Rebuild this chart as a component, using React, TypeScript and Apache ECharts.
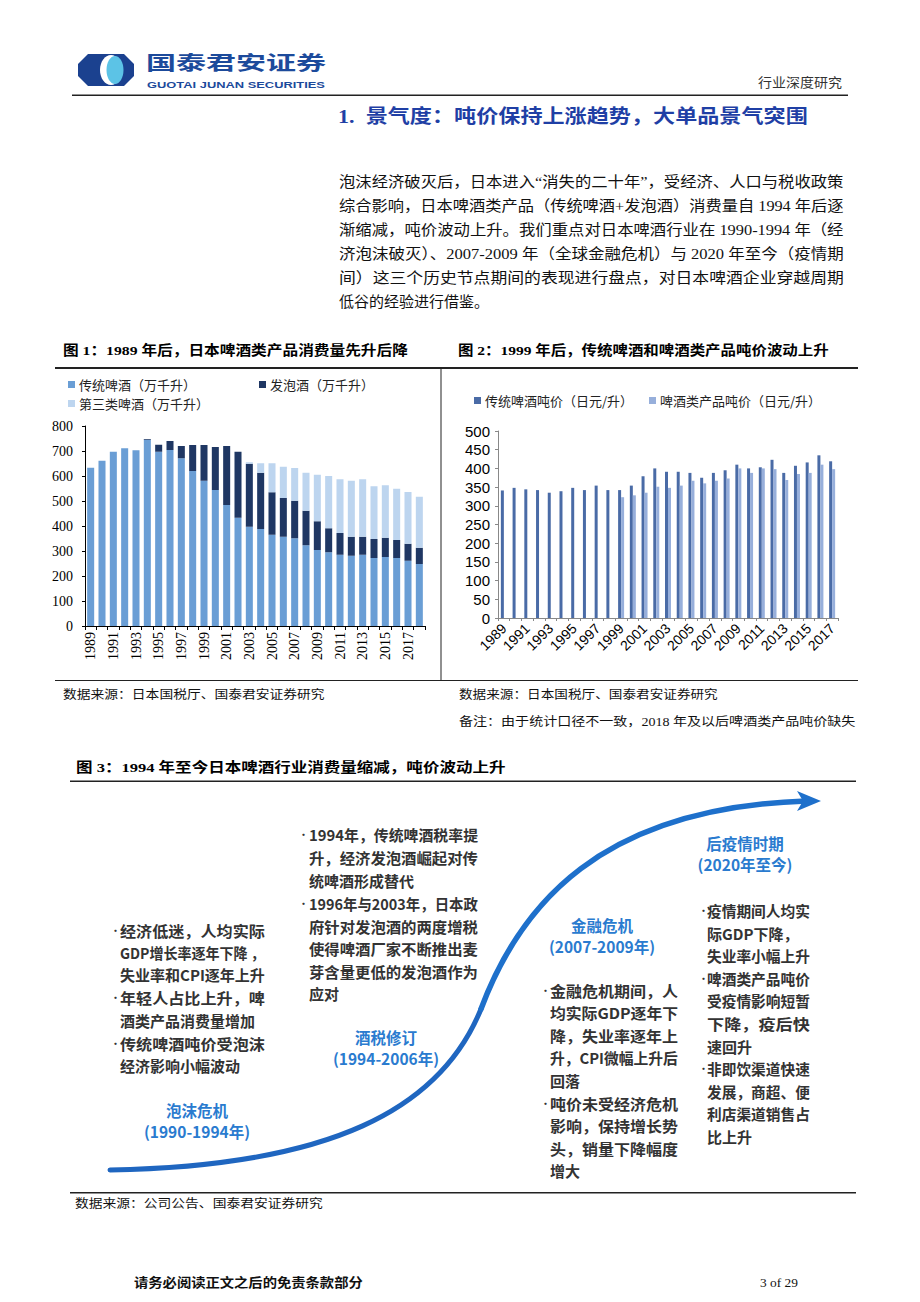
import React, { useEffect, useRef } from "react";
import * as echarts from "echarts";

// ---------------- DATA ----------------
const consumptionYears = ["1989","1990","1991","1992","1993","1994","1995","1996","1997","1998","1999","2000","2001","2002","2003","2004","2005","2006","2007","2008","2009","2010","2011","2012","2013","2014","2015","2016","2017","2018"];
const traditionalBeer = [633,661,697,711,703,745,697,704,671,620,581,544,484,433,397,388,365,357,351,323,304,295,285,281,285,272,276,272,261,248];
const happoshu = [0,0,0,0,0,3,28,36,49,104,143,172,236,264,252,225,170,155,150,138,115,96,87,76,72,76,77,72,68,65];
const thirdBeer = [null,null,null,null,null,null,null,null,null,null,null,null,null,null,6,38,116,125,131,152,186,209,215,224,230,211,210,205,207,204];

const priceYears = ["1989","1990","1991","1992","1993","1994","1995","1996","1997","1998","1999","2000","2001","2002","2003","2004","2005","2006","2007","2008","2009","2010","2011","2012","2013","2014","2015","2016","2017"];
const traditionalPrice = [341,348,344,342,335,339,348,342,354,342,342,354,379,400,391,391,388,375,388,395,410,400,403,423,388,407,416,435,419];
const beerProductPrice = [null,null,null,null,null,null,null,null,null,null,323,328,335,351,348,354,367,360,367,373,400,388,400,398,369,385,388,410,398];

const consumptionAxis = { min: 0, max: 800, interval: 100 };
const priceAxis = { min: 0, max: 500, interval: 50 };

const seriesNames = ["传统啤酒（万千升）", "发泡酒（万千升）", "第三类啤酒（万千升）"];
const priceNames = ["传统啤酒吨价（日元/升）", "啤酒类产品吨价（日元/升）"];

const paragraph = [
  "泡沫经济破灭后，日本进入“消失的二十年”，受经济、人口与税收政策",
  "综合影响，日本啤酒类产品（传统啤酒+发泡酒）消费量自 1994 年后逐",
  "渐缩减，吨价波动上升。我们重点对日本啤酒行业在 1990-1994 年（经",
  "济泡沫破灭）、2007-2009 年（全球金融危机）与 2020 年至今（疫情期",
  "间）这三个历史节点期间的表现进行盘点，对日本啤酒企业穿越周期",
  "低谷的经验进行借鉴。",
];

// [text, bullet, justify]
const block1: [string, boolean, boolean][] = [
  ["经济低迷，人均实际", true, true],
  ["GDP增长率逐年下降 ，", false, true],
  ["失业率和CPI逐年上升", false, true],
  ["年轻人占比上升，啤", true, true],
  ["酒类产品消费量增加", false, false],
  ["传统啤酒吨价受泡沫", true, true],
  ["经济影响小幅波动", false, false],
];
const block2: [string, boolean, boolean][] = [
  ["1994年，传统啤酒税率提", true, true],
  ["升，经济发泡酒崛起对传", false, true],
  ["统啤酒形成替代", false, false],
  ["1996年与2003年，日本政", true, true],
  ["府针对发泡酒的两度增税", false, true],
  ["使得啤酒厂家不断推出麦", false, true],
  ["芽含量更低的发泡酒作为", false, true],
  ["应对", false, false],
];
const block3: [string, boolean, boolean][] = [
  ["金融危机期间，人", true, true],
  ["均实际GDP逐年下", false, true],
  ["降，失业率逐年上", false, true],
  ["升，CPI微幅上升后", false, true],
  ["回落", false, false],
  ["吨价未受经济危机", true, true],
  ["影响，保持增长势", false, true],
  ["头，销量下降幅度", false, true],
  ["增大", false, false],
];
const block4: [string, boolean, boolean][] = [
  ["疫情期间人均实", true, true],
  ["际GDP下降，", false, false],
  ["失业率小幅上升", false, true],
  ["啤酒类产品吨价", true, true],
  ["受疫情影响短暂", false, true],
  ["下降，疫后快", false, true],
  ["速回升", false, false],
  ["非即饮渠道快速", true, true],
  ["发展，商超、便", false, true],
  ["利店渠道销售占", false, true],
  ["比上升", false, false],
];

const phases: [string, string][] = [
  ["泡沫危机", "(1990-1994年)"],
  ["酒税修订", "(1994-2006年)"],
  ["金融危机", "(2007-2009年)"],
  ["后疫情时期", "(2020年至今)"],
];

// ---------------- HELPERS ----------------
const SERIF = '"Liberation Serif", "Noto Sans CJK SC", serif';
const CJK = '"Noto Sans CJK SC", sans-serif';
const SANS = '"Liberation Sans", Arial, sans-serif';

let measureCtx: CanvasRenderingContext2D | null = null;
function measure(text: string, size: number, family: string, weight: string) {
  if (!measureCtx) measureCtx = document.createElement("canvas").getContext("2d");
  if (!measureCtx) return 0;
  measureCtx.font = `${weight} ${size}px ${family}`;
  return measureCtx.measureText(text).width;
}

type TOpt = { size: number; family?: string; weight?: string; color?: string; align?: string; width?: number; maxScale?: number };
function txt(text: string, x: number, y: number, o: TOpt) {
  const family = o.family || SERIF;
  const weight = o.weight || "normal";
  let scaleX = 1;
  if (o.width) {
    const w = measure(text, o.size, family, weight);
    if (w > 0) {
      scaleX = o.width / w;
      const mx = o.maxScale || 1.6;
      if (scaleX > mx) scaleX = mx;
    }
  }
  return {
    type: "text",
    x,
    y,
    scaleX,
    silent: true,
    style: {
      text,
      fill: o.color || "#000",
      fontSize: o.size,
      fontFamily: family,
      fontWeight: weight,
      align: o.align || "left",
      textAlign: o.align || "left",
      verticalAlign: "middle",
      textVerticalAlign: "middle",
    },
  };
}
function rect(x: number, y: number, w: number, h: number, fill: string) {
  return { type: "rect", silent: true, shape: { x, y, width: w, height: h }, style: { fill } };
}

function blockEls(lines: [string, boolean, boolean][], bx: number, tx: number, right: number, ys: number[]) {
  const els: any[] = [];
  lines.forEach(([t, bullet, just], i) => {
    if (bullet) els.push(txt("•", bx, ys[i], { size: 11, family: CJK, color: "#333" }));
    const w = right - tx;
    const natural = measure(t, 15, CJK, "bold");
    let opts: TOpt = { size: 15, family: CJK, weight: "bold", color: "#333" };
    if (just && natural > 0 && w / natural > 0.85 && w / natural < 1.25) opts.width = w;
    els.push(txt(t, tx, ys[i], opts));
  });
  return els;
}

function buildOption() {
  const g: any[] = [];
  // header logo
  g.push({ type: "polygon", silent: true, shape: { points: [[88, 54], [124, 54], [134, 64], [134, 76], [124, 86], [88, 86], [78, 76], [78, 64]] }, style: { fill: "#1b418f" } });
  g.push({ type: "ellipse", silent: true, shape: { cx: 111, cy: 70, rx: 11, ry: 15 }, style: { fill: "#ffffff" } });
  g.push({ type: "ellipse", silent: true, shape: { cx: 115, cy: 70, rx: 8.5, ry: 14 }, style: { fill: "#5cc3e6" } });
  g.push(txt("国泰君安证券", 146, 62, { size: 19, family: CJK, weight: "bold", color: "#1c4a9b", width: 180 }));
  g.push(txt("GUOTAI JUNAN SECURITIES", 147, 85, { size: 9, family: SANS, weight: "bold", color: "#1c4a9b", width: 178 }));
  g.push(txt("行业深度研究", 758, 83, { size: 13, family: SERIF, color: "#333", width: 84 }));
  g.push(rect(72, 94.5, 776, 1.6, "#222"));

  // section title
  g.push(txt("1.  景气度：吨价保持上涨趋势，大单品景气突围", 338, 117, { size: 19, family: SERIF, weight: "bold", color: "#1f3fa5", width: 470 }));

  // paragraph
  const py = [182, 206, 230, 254, 278, 302];
  paragraph.forEach((line, i) => {
    const o: TOpt = { size: 15, family: SERIF, color: "#111" };
    if (i < paragraph.length - 1) o.width = 505;
    g.push(txt(line, 339, py[i], o));
  });

  // figure captions
  g.push(txt("图 1：1989 年后，日本啤酒类产品消费量先升后降", 63, 350, { size: 13.5, family: SERIF, weight: "bold", width: 345 }));
  g.push(txt("图 2：1999 年后，传统啤酒和啤酒类产品吨价波动上升", 458, 350, { size: 13.5, family: SERIF, weight: "bold", width: 371 }));
  g.push(rect(55, 367, 803, 2, "#222"));
  g.push(rect(440.5, 368, 1, 312, "#222"));
  g.push(rect(55, 680, 803, 1, "#222"));
  g.push(txt("数据来源：日本国税厅、国泰君安证券研究", 63, 695, { size: 12, family: SERIF, color: "#111", width: 262 }));
  g.push(txt("数据来源：日本国税厅、国泰君安证券研究", 459, 695, { size: 12, family: SERIF, color: "#111", width: 259 }));
  g.push(txt("备注：由于统计口径不一致，2018 年及以后啤酒类产品吨价缺失", 459, 722, { size: 12, family: SERIF, color: "#111", width: 397 }));

  // figure 3
  g.push(txt("图 3：1994 年至今日本啤酒行业消费量缩减，吨价波动上升", 76, 768, { size: 13.5, family: SERIF, weight: "bold", width: 430 }));
  g.push(rect(70, 780.5, 786, 1.6, "#222"));
  g.push(rect(70, 1192, 786, 1.6, "#222"));
  g.push(txt("数据来源：公司公告、国泰君安证券研究", 75, 1204, { size: 12, family: SERIF, color: "#111", width: 248 }));

  // S curve
  g.push({ type: "bezierCurve", silent: true, shape: { x1: 110, y1: 1170, cpx1: 330, cpy1: 1166, cpx2: 440, cpy2: 1110, x2: 481, y2: 1009 }, style: { stroke: "#1f66c0", lineWidth: 5, fill: null, lineCap: "round" } });
  g.push({ type: "bezierCurve", silent: true, shape: { x1: 481, y1: 1009, cpx1: 520, cpy1: 905, cpx2: 600, cpy2: 808, x2: 806, y2: 801 }, style: { stroke: "#1e70cb", lineWidth: 5.5, fill: null, lineCap: "round" } });
  g.push({ type: "polygon", silent: true, shape: { points: [[821, 801], [797, 791], [803, 801], [797, 811]] }, style: { fill: "#1e70cb" } });

  // phase labels
  const phasePos = [[197, 1110, 1131], [386, 1037, 1058], [602, 925, 946], [745, 843, 864]];
  phases.forEach(([a, b], i) => {
    const [cx, y1, y2] = phasePos[i];
    g.push(txt(a, cx, y1, { size: 15.5, family: CJK, weight: "bold", color: "#2a7bcf", align: "center" }));
    g.push(txt(b, cx, y2, { size: 15.5, family: CJK, weight: "bold", color: "#2a7bcf", align: "center" }));
  });

  g.push(...blockEls(block1, 110, 120, 265, [930, 952, 975, 997, 1020, 1043, 1065]));
  g.push(...blockEls(block2, 298, 309, 478, [834, 857, 880, 903, 926, 948, 971, 993]));
  g.push(...blockEls(block3, 540, 550, 678, [990, 1012, 1035, 1057, 1080, 1103, 1125, 1148, 1170]));
  g.push(...blockEls(block4, 698, 707, 810, [910, 933, 955, 978, 1000, 1023, 1046, 1068, 1091, 1113, 1136]));

  // footer
  g.push(txt("请务必阅读正文之后的免责条款部分", 134, 1283, { size: 13, family: SERIF, weight: "bold", color: "#111", width: 229 }));
  g.push(txt("3 of 29", 760, 1283, { size: 13, family: SERIF, color: "#111", width: 38 }));

  const legendBase = {
    icon: "rect",
    itemWidth: 7,
    itemHeight: 7,
    itemGap: 0,
    padding: 0,
    selectedMode: false,
    textStyle: { fontSize: 13, fontFamily: CJK, color: "#222", padding: [0, 0, 0, -1] },
  };

  return {
    animation: false,
    backgroundColor: "#ffffff",
    textStyle: { fontFamily: SERIF },
    legend: [
      { ...legendBase, data: [seriesNames[0]], left: 68, top: 378 },
      { ...legendBase, data: [seriesNames[1]], left: 259, top: 378 },
      { ...legendBase, data: [seriesNames[2]], left: 68, top: 397 },
      { ...legendBase, data: [priceNames[0]], left: 474, top: 394 },
      { ...legendBase, data: [priceNames[1]], left: 649, top: 394 },
    ],
    grid: [
      { left: 85, top: 426, width: 340, height: 200 },
      { left: 498, top: 431, width: 340, height: 187 },
    ],
    xAxis: [
      {
        type: "category", gridIndex: 0, data: consumptionYears,
        axisLine: { lineStyle: { color: "#000", width: 1 } },
        axisTick: { show: true, interval: 0, length: 4, lineStyle: { color: "#000" } },
        axisLabel: { interval: 1, rotate: 90, fontSize: 14, fontFamily: '"Liberation Serif", serif', color: "#000", margin: 6 },
      },
      {
        type: "category", gridIndex: 1, data: priceYears,
        axisLine: { lineStyle: { color: "#888", width: 1 } },
        axisTick: { show: true, interval: 0, length: 3, lineStyle: { color: "#888" } },
        axisLabel: { interval: 1, rotate: 45, fontSize: 14, fontFamily: SANS, color: "#000", margin: 8 },
      },
    ],
    yAxis: [
      {
        type: "value", gridIndex: 0, ...consumptionAxis,
        splitLine: { show: false },
        axisLine: { show: true, lineStyle: { color: "#000" } },
        axisTick: { show: true, length: 3, lineStyle: { color: "#000" } },
        axisLabel: { fontSize: 14, fontFamily: '"Liberation Serif", serif', color: "#000", margin: 12 },
      },
      {
        type: "value", gridIndex: 1, ...priceAxis,
        splitLine: { show: false },
        axisLine: { show: true, lineStyle: { color: "#888" } },
        axisTick: { show: true, length: 3, lineStyle: { color: "#888" } },
        axisLabel: { fontSize: 15, fontFamily: SANS, color: "#000", margin: 8 },
      },
    ],
    series: [
      { name: seriesNames[0], type: "bar", xAxisIndex: 0, yAxisIndex: 0, stack: "c", data: traditionalBeer, barWidth: "62%", itemStyle: { color: "#6a9ed5" } },
      { name: seriesNames[1], type: "bar", xAxisIndex: 0, yAxisIndex: 0, stack: "c", data: happoshu, barWidth: "62%", itemStyle: { color: "#1f3763" } },
      { name: seriesNames[2], type: "bar", xAxisIndex: 0, yAxisIndex: 0, stack: "c", data: thirdBeer, barWidth: "62%", itemStyle: { color: "#bdd5ef" } },
      { name: priceNames[0], type: "bar", xAxisIndex: 1, yAxisIndex: 1, data: traditionalPrice, barWidth: 3, barGap: "0%", itemStyle: { color: "#4a6ba6" } },
      { name: priceNames[1], type: "bar", xAxisIndex: 1, yAxisIndex: 1, data: beerProductPrice, barWidth: 3, barGap: "0%", itemStyle: { color: "#97afdb" } },
    ],
    graphic: { elements: g },
  };
}

export default function App() {
  const ref = useRef<HTMLDivElement>(null);
  useEffect(() => {
    document.body.style.margin = "0";
    document.body.style.overflow = "hidden";
    if (!ref.current) return;
    const chart = echarts.init(ref.current, null, { renderer: "svg" });
    chart.setOption(buildOption() as any);
    return () => chart.dispose();
  }, []);
  return <div ref={ref} style={{ width: 920, height: 1302, background: "#fff" }} />;
}
